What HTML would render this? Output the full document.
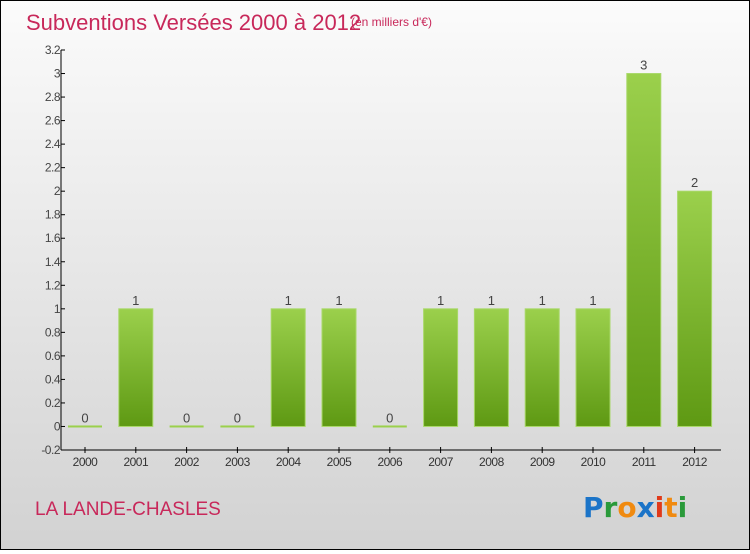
<!DOCTYPE html>
<html><head><meta charset="utf-8"><style>
html,body{margin:0;padding:0}
body{width:750px;height:550px;overflow:hidden;font-family:"Liberation Sans",sans-serif}
#wrap{position:absolute;left:0;top:0;width:748px;height:548px;border:1px solid #000;background:linear-gradient(#fbfbfb,#d2d2d2)}
</style></head><body>
<div id="wrap">
<svg id="chart" width="748" height="548">
<defs><linearGradient id="g" x1="0" y1="0" x2="0" y2="1"><stop offset="0" stop-color="#9bd04c"/><stop offset="1" stop-color="#5e9913"/></linearGradient></defs>
<text x="25" y="29" font-size="22" fill="#c8285a">Subventions Versées 2000 à 2012</text>
<text x="350" y="25" font-size="12" fill="#c8285a">(en milliers d'€)</text>
<text x="34" y="514" font-size="19" fill="#c8285a">LA LANDE-CHASLES</text>
<g font-size="28" font-weight="bold" font-family="DejaVu Sans, sans-serif">
<text x="582" y="516"><tspan fill="#1b74c8">P</tspan><tspan fill="#2a9a3a">r</tspan><tspan fill="#f08a10">o</tspan><tspan fill="#1b74c8">x</tspan><tspan fill="#e03a1a">i</tspan><tspan fill="#f08a10">t</tspan><tspan fill="#2a9a3a">i</tspan></text></g>
<g id="axes"></g><g id="bars"></g>
</svg></div>
<script>
const categories=["2000","2001","2002","2003","2004","2005","2006","2007","2008","2009","2010","2011","2012"];
const values=[0,1,0,0,1,1,0,1,1,1,1,3,2];
const valueLabels=["0","1","0","0","1","1","0","1","1","1","1","3","2"];
const yTicks=[-0.2,0,0.2,0.4,0.6,0.8,1,1.2,1.4,1.6,1.8,2,2.2,2.4,2.6,2.8,3,3.2];
const NS="http://www.w3.org/2000/svg";
const yMin=-0.2,yMax=3.2,yTop=49,yBot=449,xL=60,xR=720;
function y(v){return yBot-(v-yMin)/(yMax-yMin)*(yBot-yTop);}
function x(i){return 84+i*50.8;}
function mk(t,a,p){const e=document.createElementNS(NS,t);for(const k in a)e.setAttribute(k,a[k]);p.appendChild(e);return e;}
const ax=document.getElementById('axes'),bs=document.getElementById('bars');
let l=mk('line',{x1:xL,y1:yTop,x2:xL,y2:yBot,stroke:'#000'},ax);


l=mk('line',{x1:xL,y1:yBot,x2:xR,y2:yBot,stroke:'#000'},ax);


yTicks.forEach(v=>{
 const yy=y(v);
 mk('line',{x1:xL,y1:yy,x2:xL+4,y2:yy,stroke:'#000'},ax);
 const t=mk('text',{x:xL-1,y:yy+4,'font-size':12,fill:'#444','text-anchor':'end','letter-spacing':'-0.5'},ax);
 t.textContent=String(Math.round(v*10)/10);
 
 
});
categories.forEach((c,i)=>{
 const cx=x(i);
 mk('line',{x1:cx,y1:yBot-3,x2:cx,y2:yBot+3,stroke:'#000'},ax);
 const t=mk('text',{x:cx,y:yBot+16,'font-size':12,fill:'#333','text-anchor':'middle','letter-spacing':'-0.5'},ax);
 t.textContent=c;
 
 
 const v=values[i];let r;
 if(v===0){r=mk('rect',{x:cx-17,y:y(0)-1,width:34,height:2,fill:'#9bd04c'},bs);}
 else{r=mk('rect',{x:cx-17,y:y(v),width:34,height:y(0)-y(v),fill:'url(#g)',stroke:'#a8d868','stroke-width':1},bs);}
 
 
 const vt=mk('text',{x:cx,y:y(v)-4,'font-size':13,fill:'#444','text-anchor':'middle'},bs);
 vt.textContent=valueLabels[i];
 
 
});
</script>
</body></html>
